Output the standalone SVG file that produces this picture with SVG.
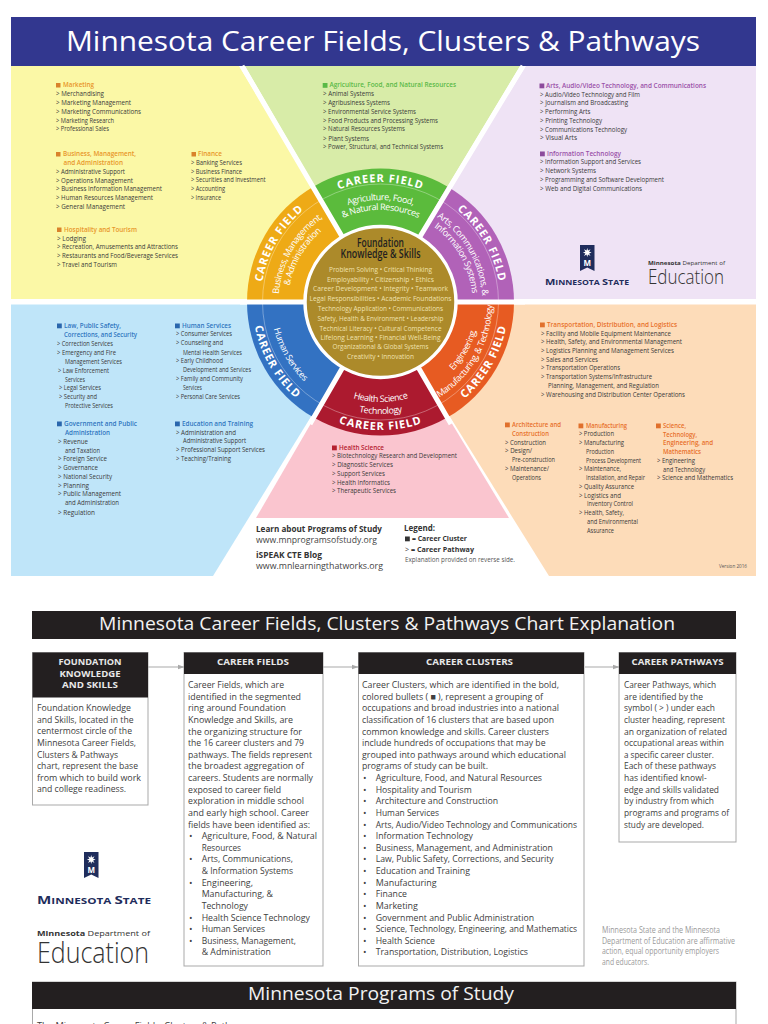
<svg xmlns="http://www.w3.org/2000/svg" xmlns:xlink="http://www.w3.org/1999/xlink" width="768" height="1024" viewBox="0 0 768 1024">
<style>
text{font-family:"Open Sans","Liberation Sans",sans-serif}
.t{font-size:7.4px;fill:#3a3a3a}
.h{font-size:7.8px;font-weight:600}
.or{fill:#e8962a}.gr{fill:#5ab947}.pu{fill:#9a50a8}.bl{fill:#2f75bf}.rd{fill:#e8702a}.cr{fill:#b5202f}
.cf{font-size:11px;font-weight:700;fill:#fff;letter-spacing:.9px;text-anchor:middle}
.il{font-size:9px;fill:#fff;text-anchor:middle;letter-spacing:-.45px}
.fk{font-size:8px;fill:#f0e2b0;text-anchor:middle}
.w{stroke:#fff;stroke-width:5;fill:none}
.box{fill:#fff;stroke:#a9a9a9;stroke-width:1}
.bar{fill:#231f20}
.hd{font-size:9px;font-weight:700;fill:#e8e8e8;text-anchor:middle}
.x{font-size:9.3px;fill:#404040}
.bt{font-size:18.5px;fill:#f2f2f2}
.cn{stroke:#a9a9a9;stroke-width:1;fill:none;marker-end:url(#ah)}
.navy{fill:#1f2d5c}
</style>
<defs>
<marker id="ah" markerWidth="7" markerHeight="6" refX="6.5" refY="3" orient="auto" markerUnits="userSpaceOnUse"><path d="M0 0.5L7 3L0 5.5Z" fill="#a9a9a9"/></marker>
<path id="c120" d="M-103.9 -60A120 120 0 0 1 103.9 -60"/>
<path id="c102" d="M-88.3 -51A102 102 0 0 1 88.3 -51"/>
<path id="c92" d="M-79.7 -46A92 92 0 0 1 79.7 -46"/>
<path id="u128" d="M-110.9 64A128 128 0 0 0 110.9 64"/>
<path id="u110" d="M-95.3 55A110 110 0 0 0 95.3 55"/>
<path id="u100" d="M-86.6 50A100 100 0 0 0 86.6 50"/>
<path id="u112" d="M-97 56A112 112 0 0 0 97 56"/>
<g id="banner"><path d="M0 0H14.5V26L7.25 22.5L0 26Z" class="navy"/><polygon points="7.25,3 8,5.6 10.5,4.2 9.1,6.8 11.6,7.6 9.1,8.4 10.5,11 8,9.6 7.25,12 6.5,9.6 4,11 5.4,8.4 2.9,7.6 5.4,6.8 4,4.2 6.5,5.6" fill="#fff"/></g>
</defs>
<rect width="768" height="1024" fill="#fff"/>

<g id="title-bar"><rect x="11" y="17" width="745" height="49" fill="#32378f"/><text x="66" y="51" font-size="28" fill="#fff" textLength="634" lengthAdjust="spacingAndGlyphs">Minnesota Career Fields, Clusters &amp; Pathways</text></g>

<g id="panels">
<polygon points="11,66 239,66 380,299 11,299" fill="#fbf8a6"/>
<polygon points="245,66 520,66 380,299" fill="#d8eca8"/>
<polygon points="526,66 756,66 756,299 380,299" fill="#efe3f5"/>
<polygon points="11,304.5 380,304.5 213,576 11,576" fill="#bfe5f9"/>
<polygon points="380,304.5 256,518 509,518" fill="#fac5cf"/>
<polygon points="380,304.5 756,304.5 756,576 549,576" fill="#fddcb9"/>
</g>

<g id="wheel">
<path d="M380.5 302L313.75 186.4A133.5 133.5 0 0 1 447.25 186.4Z" fill="#5bbb3c"/>
<path d="M380.5 302L447.25 186.4A133.5 133.5 0 0 1 514 302Z" fill="#b162b8"/>
<path d="M380.5 302L514 302A133.5 133.5 0 0 1 447.25 417.6Z" fill="#e75b22"/>
<path d="M380.5 302L447.25 417.6A133.5 133.5 0 0 1 313.75 417.6Z" fill="#ac1a2f"/>
<path d="M380.5 302L313.75 417.6A133.5 133.5 0 0 1 247 302Z" fill="#3372c2"/>
<path d="M380.5 302L247 302A133.5 133.5 0 0 1 313.75 186.4Z" fill="#eeaa16"/>
<circle cx="380.5" cy="302" r="118" fill="none" stroke="#fff" stroke-width=".6" opacity=".55"/>
<path class="w" d="M380.5 302L242 66M380.5 302L523 66M240 302H525M380.5 302L310 424M380.5 302L451 424"/>
<circle cx="380.5" cy="302" r="75.5" fill="#ac8a2a" stroke="#fff" stroke-width="3.5"/>
</g>

<g id="field-agriculture" transform="translate(380.5 302)">
<text class="cf"><textPath href="#c120" startOffset="50%">CAREER FIELD</textPath></text>
<text class="il"><textPath href="#c102" startOffset="50%">Agriculture, Food,</textPath></text>
<text class="il"><textPath href="#c92" startOffset="50%">&amp; Natural Resources</textPath></text>
</g>
<g id="field-arts" transform="translate(380.5 302) rotate(60)">
<text class="cf"><textPath href="#c120" startOffset="50%">CAREER FIELD</textPath></text>
<text class="il"><textPath href="#c102" startOffset="50%">Arts, Communications, &amp;</textPath></text>
<text class="il"><textPath href="#c92" startOffset="50%">Information Systems</textPath></text>
</g>
<g id="field-business" transform="translate(380.5 302) rotate(-60)">
<text class="cf"><textPath href="#c120" startOffset="50%">CAREER FIELD</textPath></text>
<text class="il"><textPath href="#c102" startOffset="50%">Business, Management,</textPath></text>
<text class="il"><textPath href="#c92" startOffset="50%">&amp; Administration</textPath></text>
</g>
<g id="field-health" transform="translate(380.5 302)">
<text class="cf"><textPath href="#u128" startOffset="50%">CAREER FIELD</textPath></text>
<text class="il"><textPath href="#u100" startOffset="50%">Health Science</textPath></text>
<text class="il"><textPath href="#u112" startOffset="50%">Technology</textPath></text>
</g>
<g id="field-human" transform="translate(380.5 302) rotate(60)">
<text class="cf"><textPath href="#u128" startOffset="50%">CAREER FIELD</textPath></text>
<text class="il"><textPath href="#u110" startOffset="50%">Human Services</textPath></text>
</g>
<g id="field-engineering" transform="translate(380.5 302) rotate(-60)">
<text class="cf"><textPath href="#u128" startOffset="50%">CAREER FIELD</textPath></text>
<text class="il"><textPath href="#u100" startOffset="50%">Engineering,</textPath></text>
<text class="il"><textPath href="#u112" startOffset="50%">Manufacturing, &amp; Technology</textPath></text>
</g>

<g id="foundation">
<text x="380.5" y="247" font-size="12" font-weight="600" fill="#231f20" text-anchor="middle" textLength="47" lengthAdjust="spacingAndGlyphs">Foundation</text>
<text x="380.5" y="258" font-size="12" font-weight="600" fill="#231f20" text-anchor="middle" textLength="80" lengthAdjust="spacingAndGlyphs">Knowledge &amp; Skills</text>
<text class="fk" x="380.5" y="272" textLength="103" lengthAdjust="spacingAndGlyphs">Problem Solving • Critical Thinking</text>
<text class="fk" x="380.5" y="281.7" textLength="107" lengthAdjust="spacingAndGlyphs">Employability • Citizenship • Ethics</text>
<text class="fk" x="380.5" y="291" textLength="135" lengthAdjust="spacingAndGlyphs">Career Development • Integrity • Teamwork</text>
<text class="fk" x="380.5" y="301" textLength="142" lengthAdjust="spacingAndGlyphs">Legal Responsibilities • Academic Foundations</text>
<text class="fk" x="380.5" y="311" textLength="125" lengthAdjust="spacingAndGlyphs">Technology Application • Communications</text>
<text class="fk" x="380.5" y="321" textLength="126" lengthAdjust="spacingAndGlyphs">Safety, Health &amp; Environment • Leadership</text>
<text class="fk" x="380.5" y="330.7" textLength="122" lengthAdjust="spacingAndGlyphs">Technical Literacy • Cultural Competence</text>
<text class="fk" x="380.5" y="340" textLength="120" lengthAdjust="spacingAndGlyphs">Lifelong Learning • Financial Well-Being</text>
<text class="fk" x="380.5" y="349" textLength="96" lengthAdjust="spacingAndGlyphs">Organizational &amp; Global Systems</text>
<text class="fk" x="380.5" y="359" textLength="67" lengthAdjust="spacingAndGlyphs">Creativity • Innovation</text>
</g>

<g id="clusters-yellow">
<rect x="56" y="83" width="4.5" height="4.5" fill="#d9822b"/>
<text class="h or" x="63" y="87" textLength="31" lengthAdjust="spacingAndGlyphs">Marketing</text>
<text class="t" x="56" y="96" textLength="48" lengthAdjust="spacingAndGlyphs">&gt; Merchandising</text>
<text class="t" x="56" y="105" textLength="75" lengthAdjust="spacingAndGlyphs">&gt; Marketing Management</text>
<text class="t" x="56" y="113.5" textLength="85" lengthAdjust="spacingAndGlyphs">&gt; Marketing Communications</text>
<text class="t" x="56" y="122.5" textLength="58" lengthAdjust="spacingAndGlyphs">&gt; Marketing Research</text>
<text class="t" x="56" y="130.7" textLength="53" lengthAdjust="spacingAndGlyphs">&gt; Professional Sales</text>
<rect x="56" y="152" width="4.5" height="4.5" fill="#d9822b"/>
<text class="h or" x="63" y="156" textLength="73" lengthAdjust="spacingAndGlyphs">Business, Management,</text>
<text class="h or" x="63.5" y="165" textLength="59.5" lengthAdjust="spacingAndGlyphs">and Administration</text>
<text class="t" x="56" y="174" textLength="69" lengthAdjust="spacingAndGlyphs">&gt; Administrative Support</text>
<text class="t" x="56" y="182.5" textLength="77" lengthAdjust="spacingAndGlyphs">&gt; Operations Management</text>
<text class="t" x="56" y="191" textLength="106" lengthAdjust="spacingAndGlyphs">&gt; Business Information Management</text>
<text class="t" x="56" y="200" textLength="97" lengthAdjust="spacingAndGlyphs">&gt; Human Resources Management</text>
<text class="t" x="56" y="209" textLength="69" lengthAdjust="spacingAndGlyphs">&gt; General Management</text>
<rect x="57" y="227.500" width="4.5" height="4.5" fill="#d9822b"/>
<text class="h or" x="64" y="232" textLength="73" lengthAdjust="spacingAndGlyphs">Hospitality and Tourism</text>
<text class="t" x="57" y="241" textLength="29" lengthAdjust="spacingAndGlyphs">&gt; Lodging</text>
<text class="t" x="57" y="249" textLength="121" lengthAdjust="spacingAndGlyphs">&gt; Recreation, Amusements and Attractions</text>
<text class="t" x="57" y="258" textLength="121" lengthAdjust="spacingAndGlyphs">&gt; Restaurants and Food/Beverage Services</text>
<text class="t" x="57" y="267" textLength="60" lengthAdjust="spacingAndGlyphs">&gt; Travel and Tourism</text>
<rect x="191.500" y="152" width="4.5" height="4.5" fill="#d9822b"/>
<text class="h or" x="198" y="156" textLength="24" lengthAdjust="spacingAndGlyphs">Finance</text>
<text class="t" x="191" y="165" textLength="51" lengthAdjust="spacingAndGlyphs">&gt; Banking Services</text>
<text class="t" x="191" y="174" textLength="51" lengthAdjust="spacingAndGlyphs">&gt; Business Finance</text>
<text class="t" x="191" y="182" textLength="74.500" lengthAdjust="spacingAndGlyphs">&gt; Securities and Investment</text>
<text class="t" x="191" y="191" textLength="34" lengthAdjust="spacingAndGlyphs">&gt; Accounting</text>
<text class="t" x="191" y="200" textLength="30" lengthAdjust="spacingAndGlyphs">&gt; Insurance</text>
</g>

<g id="clusters-green">
<rect x="322.700" y="83" width="4.800" height="4.800" fill="#5ab947"/>
<text class="h gr" x="329.500" y="87" textLength="126.500" lengthAdjust="spacingAndGlyphs">Agriculture, Food, and Natural Resources</text>
<text class="t" x="323" y="96" textLength="51" lengthAdjust="spacingAndGlyphs">&gt; Animal Systems</text>
<text class="t" x="323" y="105" textLength="67" lengthAdjust="spacingAndGlyphs">&gt; Agribusiness Systems</text>
<text class="t" x="323" y="113.500" textLength="93" lengthAdjust="spacingAndGlyphs">&gt; Environmental Service Systems</text>
<text class="t" x="323" y="122.500" textLength="115" lengthAdjust="spacingAndGlyphs">&gt; Food Products and Processing Systems</text>
<text class="t" x="323" y="131" textLength="82" lengthAdjust="spacingAndGlyphs">&gt; Natural Resources Systems</text>
<text class="t" x="323" y="140.500" textLength="46" lengthAdjust="spacingAndGlyphs">&gt; Plant Systems</text>
<text class="t" x="323" y="148.500" textLength="120" lengthAdjust="spacingAndGlyphs">&gt; Power, Structural, and Technical Systems</text>
</g>

<g id="clusters-purple">
<rect x="539.500" y="83.500" width="4.800" height="4.800" fill="#8c4a9c"/>
<text class="h pu" x="546" y="88" textLength="160" lengthAdjust="spacingAndGlyphs">Arts, Audio/Video Technology, and Communications</text>
<text class="t" x="540" y="97" textLength="100" lengthAdjust="spacingAndGlyphs">&gt; Audio/Video Technology and Film</text>
<text class="t" x="540" y="105" textLength="88" lengthAdjust="spacingAndGlyphs">&gt; Journalism and Broadcasting</text>
<text class="t" x="540" y="114" textLength="50.500" lengthAdjust="spacingAndGlyphs">&gt; Performing Arts</text>
<text class="t" x="540" y="123" textLength="62" lengthAdjust="spacingAndGlyphs">&gt; Printing Technology</text>
<text class="t" x="540" y="132" textLength="87" lengthAdjust="spacingAndGlyphs">&gt; Communications Technology</text>
<text class="t" x="540" y="140" textLength="37" lengthAdjust="spacingAndGlyphs">&gt; Visual Arts</text>
<rect x="540" y="151.500" width="4.800" height="4.800" fill="#8c4a9c"/>
<text class="h pu" x="547" y="156" textLength="74" lengthAdjust="spacingAndGlyphs">Information Technology</text>
<text class="t" x="540" y="164" textLength="101" lengthAdjust="spacingAndGlyphs">&gt; Information Support and Services</text>
<text class="t" x="540" y="173" textLength="56" lengthAdjust="spacingAndGlyphs">&gt; Network Systems</text>
<text class="t" x="540" y="182" textLength="124" lengthAdjust="spacingAndGlyphs">&gt; Programming and Software Development</text>
<text class="t" x="540" y="191" textLength="102" lengthAdjust="spacingAndGlyphs">&gt; Web and Digital Communications</text>
</g>

<g id="logos-top">
<use href="#banner" x="580" y="245"/>
<text x="587.200" y="266" font-size="8" font-weight="700" fill="#fff" text-anchor="middle">M</text>
<text x="545" y="285" font-weight="700" class="navy" font-size="7.500" textLength="84" lengthAdjust="spacingAndGlyphs"><tspan font-size="9.500">M</tspan>INNESOTA <tspan font-size="9.500">S</tspan>TATE</text>
<text x="648" y="265" font-size="6" fill="#333" textLength="77" lengthAdjust="spacingAndGlyphs"><tspan font-weight="700">Minnesota</tspan> Department of</text>
<text x="648" y="284" font-size="21" font-weight="300" fill="#333" textLength="76" lengthAdjust="spacingAndGlyphs">Education</text>
</g>

<g id="clusters-blue">
<rect x="57" y="323.500" width="4.800" height="4.800" fill="#2a66ad"/>
<text class="h bl" x="64" y="328" textLength="57" lengthAdjust="spacingAndGlyphs">Law, Public Safety,</text>
<text class="h bl" x="64" y="337" textLength="73" lengthAdjust="spacingAndGlyphs">Corrections, and Security</text>
<text class="t" x="57" y="346" textLength="56" lengthAdjust="spacingAndGlyphs">&gt; Correction Services</text>
<text class="t" x="57" y="355" textLength="59" lengthAdjust="spacingAndGlyphs">&gt; Emergency and Fire</text>
<text class="t" x="65" y="364" textLength="57" lengthAdjust="spacingAndGlyphs">Management Services</text>
<text class="t" x="58" y="373" textLength="51" lengthAdjust="spacingAndGlyphs">&gt; Law Enforcement</text>
<text class="t" x="65" y="382" textLength="20" lengthAdjust="spacingAndGlyphs">Services</text>
<text class="t" x="59" y="390" textLength="42" lengthAdjust="spacingAndGlyphs">&gt; Legal Services</text>
<text class="t" x="59" y="399" textLength="38" lengthAdjust="spacingAndGlyphs">&gt; Security and</text>
<text class="t" x="65" y="408" textLength="48" lengthAdjust="spacingAndGlyphs">Protective Services</text>
<rect x="57" y="421.500" width="4.800" height="4.800" fill="#2a66ad"/>
<text class="h bl" x="64" y="426" textLength="73" lengthAdjust="spacingAndGlyphs">Government and Public</text>
<text class="h bl" x="65" y="435" textLength="45" lengthAdjust="spacingAndGlyphs">Administration</text>
<text class="t" x="58" y="444" textLength="30" lengthAdjust="spacingAndGlyphs">&gt; Revenue</text>
<text class="t" x="65" y="453" textLength="35" lengthAdjust="spacingAndGlyphs">and Taxation</text>
<text class="t" x="58" y="461" textLength="49" lengthAdjust="spacingAndGlyphs">&gt; Foreign Service</text>
<text class="t" x="58" y="470" textLength="40" lengthAdjust="spacingAndGlyphs">&gt; Governance</text>
<text class="t" x="58" y="479" textLength="54" lengthAdjust="spacingAndGlyphs">&gt; National Security</text>
<text class="t" x="58" y="488" textLength="31" lengthAdjust="spacingAndGlyphs">&gt; Planning</text>
<text class="t" x="58" y="496" textLength="63" lengthAdjust="spacingAndGlyphs">&gt; Public Management</text>
<text class="t" x="65" y="505" textLength="54" lengthAdjust="spacingAndGlyphs">and Administration</text>
<text class="t" x="58" y="515" textLength="37" lengthAdjust="spacingAndGlyphs">&gt; Regulation</text>
<rect x="175" y="323.500" width="4.800" height="4.800" fill="#2a66ad"/>
<text class="h bl" x="182" y="328" textLength="49" lengthAdjust="spacingAndGlyphs">Human Services</text>
<text class="t" x="176" y="336" textLength="56" lengthAdjust="spacingAndGlyphs">&gt; Consumer Services</text>
<text class="t" x="176" y="345" textLength="47" lengthAdjust="spacingAndGlyphs">&gt; Counseling and</text>
<text class="t" x="183" y="355" textLength="59" lengthAdjust="spacingAndGlyphs">Mental Health Services</text>
<text class="t" x="176" y="363" textLength="47" lengthAdjust="spacingAndGlyphs">&gt; Early Childhood</text>
<text class="t" x="183" y="372" textLength="68" lengthAdjust="spacingAndGlyphs">Development and Services</text>
<text class="t" x="176" y="381" textLength="67" lengthAdjust="spacingAndGlyphs">&gt; Family and Community</text>
<text class="t" x="183" y="390" textLength="19" lengthAdjust="spacingAndGlyphs">Services</text>
<text class="t" x="176" y="399" textLength="64" lengthAdjust="spacingAndGlyphs">&gt; Personal Care Services</text>
<rect x="175" y="421.500" width="4.800" height="4.800" fill="#2a66ad"/>
<text class="h bl" x="182" y="426" textLength="71" lengthAdjust="spacingAndGlyphs">Education and Training</text>
<text class="t" x="176" y="435" textLength="60" lengthAdjust="spacingAndGlyphs">&gt; Administration and</text>
<text class="t" x="183" y="443" textLength="63" lengthAdjust="spacingAndGlyphs">Administrative Support</text>
<text class="t" x="176" y="452" textLength="89" lengthAdjust="spacingAndGlyphs">&gt; Professional Support Services</text>
<text class="t" x="176" y="461" textLength="55" lengthAdjust="spacingAndGlyphs">&gt; Teaching/Training</text>
</g>

<g id="clusters-orange">
<rect x="540" y="322.500" width="4.800" height="4.800" fill="#e0702c"/>
<text class="h rd" x="547" y="327" textLength="130" lengthAdjust="spacingAndGlyphs">Transportation, Distribution, and Logistics</text>
<text class="t" x="541" y="336" textLength="130" lengthAdjust="spacingAndGlyphs">&gt; Facility and Mobile Equipment Maintenance</text>
<text class="t" x="541" y="344" textLength="141" lengthAdjust="spacingAndGlyphs">&gt; Health, Safety, and Environmental Management</text>
<text class="t" x="541" y="353" textLength="133" lengthAdjust="spacingAndGlyphs">&gt; Logistics Planning and Management Services</text>
<text class="t" x="541" y="362" textLength="57" lengthAdjust="spacingAndGlyphs">&gt; Sales and Services</text>
<text class="t" x="541" y="370" textLength="79" lengthAdjust="spacingAndGlyphs">&gt; Transportation Operations</text>
<text class="t" x="541" y="379" textLength="111" lengthAdjust="spacingAndGlyphs">&gt; Transportation Systems/Infrastructure</text>
<text class="t" x="548" y="388" textLength="111" lengthAdjust="spacingAndGlyphs">Planning, Management, and Regulation</text>
<text class="t" x="541" y="397" textLength="144" lengthAdjust="spacingAndGlyphs">&gt; Warehousing and Distribution Center Operations</text>
<rect x="505" y="422.500" width="4.800" height="4.800" fill="#e0702c"/>
<text class="h rd" x="512" y="427" textLength="49" lengthAdjust="spacingAndGlyphs">Architecture and</text>
<text class="h rd" x="512" y="436" textLength="37" lengthAdjust="spacingAndGlyphs">Construction</text>
<text class="t" x="505" y="445" textLength="41" lengthAdjust="spacingAndGlyphs">&gt; Construction</text>
<text class="t" x="505" y="453" textLength="27" lengthAdjust="spacingAndGlyphs">&gt; Design/</text>
<text class="t" x="512" y="462" textLength="43" lengthAdjust="spacingAndGlyphs">Pre-construction</text>
<text class="t" x="505" y="471" textLength="44" lengthAdjust="spacingAndGlyphs">&gt; Maintenance/</text>
<text class="t" x="512" y="480" textLength="29" lengthAdjust="spacingAndGlyphs">Operations</text>
<rect x="578.500" y="423.500" width="4.800" height="4.800" fill="#e0702c"/>
<text class="h rd" x="586" y="428" textLength="41" lengthAdjust="spacingAndGlyphs">Manufacturing</text>
<text class="t" x="579" y="436" textLength="35" lengthAdjust="spacingAndGlyphs">&gt; Production</text>
<text class="t" x="579" y="445" textLength="45" lengthAdjust="spacingAndGlyphs">&gt; Manufacturing</text>
<text class="t" x="586" y="454" textLength="28" lengthAdjust="spacingAndGlyphs">Production</text>
<text class="t" x="586" y="463" textLength="55" lengthAdjust="spacingAndGlyphs">Process Development</text>
<text class="t" x="579" y="471" textLength="42" lengthAdjust="spacingAndGlyphs">&gt; Maintenance,</text>
<text class="t" x="586" y="480" textLength="59" lengthAdjust="spacingAndGlyphs">Installation, and Repair</text>
<text class="t" x="579" y="489" textLength="55" lengthAdjust="spacingAndGlyphs">&gt; Quality Assurance</text>
<text class="t" x="579" y="498" textLength="42" lengthAdjust="spacingAndGlyphs">&gt; Logistics and</text>
<text class="t" x="587" y="506" textLength="46" lengthAdjust="spacingAndGlyphs">Inventory Control</text>
<text class="t" x="579" y="515" textLength="45" lengthAdjust="spacingAndGlyphs">&gt; Health, Safety,</text>
<text class="t" x="587" y="524" textLength="51" lengthAdjust="spacingAndGlyphs">and Environmental</text>
<text class="t" x="587" y="533" textLength="27" lengthAdjust="spacingAndGlyphs">Assurance</text>
<rect x="656" y="423.500" width="4.800" height="4.800" fill="#e0702c"/>
<text class="h rd" x="663" y="428" textLength="23" lengthAdjust="spacingAndGlyphs">Science,</text>
<text class="h rd" x="663" y="437" textLength="34" lengthAdjust="spacingAndGlyphs">Technology,</text>
<text class="h rd" x="663" y="445" textLength="50" lengthAdjust="spacingAndGlyphs">Engineering, and</text>
<text class="h rd" x="663" y="454" textLength="38" lengthAdjust="spacingAndGlyphs">Mathematics</text>
<text class="t" x="657" y="463" textLength="38" lengthAdjust="spacingAndGlyphs">&gt; Engineering</text>
<text class="t" x="663" y="472" textLength="42" lengthAdjust="spacingAndGlyphs">and Technology</text>
<text class="t" x="657" y="480" textLength="76" lengthAdjust="spacingAndGlyphs">&gt; Science and Mathematics</text>
<text x="719" y="568" font-size="5" fill="#555" textLength="28" lengthAdjust="spacingAndGlyphs">Version 2016</text>
</g>

<g id="clusters-pink">
<rect x="332" y="445.500" width="4.800" height="4.800" fill="#b5202f"/>
<text class="h cr" x="339" y="450" textLength="45" lengthAdjust="spacingAndGlyphs">Health Science</text>
<text class="t" x="332" y="458" textLength="125" lengthAdjust="spacingAndGlyphs">&gt; Biotechnology Research and Development</text>
<text class="t" x="332" y="467" textLength="61" lengthAdjust="spacingAndGlyphs">&gt; Diagnostic Services</text>
<text class="t" x="332" y="476" textLength="53" lengthAdjust="spacingAndGlyphs">&gt; Support Services</text>
<text class="t" x="332" y="485" textLength="58" lengthAdjust="spacingAndGlyphs">&gt; Health Informatics</text>
<text class="t" x="332" y="493" textLength="64" lengthAdjust="spacingAndGlyphs">&gt; Therapeutic Services</text>
</g>

<g id="study-links">
<text x="256" y="531.700" font-size="9" font-weight="700" fill="#333" textLength="126" lengthAdjust="spacingAndGlyphs">Learn about Programs of Study</text>
<text x="256" y="542.500" font-size="9" fill="#444" textLength="121" lengthAdjust="spacingAndGlyphs">www.mnprogramsofstudy.org</text>
<text x="256" y="558" font-size="9" font-weight="700" fill="#333" textLength="66" lengthAdjust="spacingAndGlyphs">iSPEAK CTE Blog</text>
<text x="256" y="569" font-size="9" fill="#444" textLength="127" lengthAdjust="spacingAndGlyphs">www.mnlearningthatworks.org</text>
</g>
<g id="legend">
<text x="404" y="531" font-size="9" font-weight="700" fill="#333" textLength="31" lengthAdjust="spacingAndGlyphs">Legend:</text>
<rect x="405" y="536.500" width="4.800" height="4.800" fill="#333"/>
<text x="412" y="541" font-size="7" font-weight="700" fill="#333" textLength="55" lengthAdjust="spacingAndGlyphs">= Career Cluster</text>
<text x="405" y="552" font-size="7" font-weight="700" fill="#333" textLength="69" lengthAdjust="spacingAndGlyphs"><tspan font-weight="400">&gt;</tspan> = Career Pathway</text>
<text x="405" y="562" font-size="6.500" fill="#555" textLength="110" lengthAdjust="spacingAndGlyphs">Explanation provided on reverse side.</text>
</g>

<g id="explanation-title"><rect class="bar" x="32" y="611" width="704" height="28"/><text class="bt" x="99" y="630" textLength="576" lengthAdjust="spacingAndGlyphs">Minnesota Career Fields, Clusters &amp; Pathways Chart Explanation</text></g>

<g id="connectors">
<path class="cn" d="M148 667H184"/>
<path class="cn" d="M323 667H358"/>
<path class="cn" d="M585 667H619"/>
</g>

<g id="box-foundation">
<rect class="box" x="32.500" y="652.500" width="115.500" height="152.500"/>
<rect class="bar" x="32.500" y="652.500" width="115.500" height="45"/>
<text class="hd" x="90" y="665" textLength="63" lengthAdjust="spacingAndGlyphs">FOUNDATION</text>
<text class="hd" x="90" y="676.500" textLength="61" lengthAdjust="spacingAndGlyphs">KNOWLEDGE</text>
<text class="hd" x="90" y="688" textLength="56" lengthAdjust="spacingAndGlyphs">AND SKILLS</text>
<text class="x" x="37" y="711" textLength="94" lengthAdjust="spacingAndGlyphs">Foundation Knowledge</text>
<text class="x" x="37" y="722.600" textLength="96.500" lengthAdjust="spacingAndGlyphs">and Skills, located in the</text>
<text class="x" x="37" y="734.300" textLength="95" lengthAdjust="spacingAndGlyphs">centermost circle of the</text>
<text class="x" x="37" y="745.900" textLength="99" lengthAdjust="spacingAndGlyphs">Minnesota Career Fields,</text>
<text class="x" x="37" y="757.500" textLength="81" lengthAdjust="spacingAndGlyphs">Clusters &amp; Pathways</text>
<text class="x" x="37" y="769.100" textLength="101" lengthAdjust="spacingAndGlyphs">chart, represent the base</text>
<text class="x" x="37" y="780.800" textLength="104" lengthAdjust="spacingAndGlyphs">from which to build work</text>
<text class="x" x="37" y="792.400" textLength="89" lengthAdjust="spacingAndGlyphs">and college readiness.</text>
</g>

<g id="box-fields">
<rect class="box" x="184" y="652.500" width="139" height="313.500"/>
<rect class="bar" x="184" y="652.500" width="139" height="21.500"/>
<text class="hd" x="253" y="665" textLength="72" lengthAdjust="spacingAndGlyphs">CAREER FIELDS</text>
<text class="x" x="188" y="688" textLength="96" lengthAdjust="spacingAndGlyphs">Career Fields, which are</text>
<text class="x" x="188" y="699.600" textLength="113" lengthAdjust="spacingAndGlyphs">identified in the segmented</text>
<text class="x" x="188" y="711.300" textLength="98" lengthAdjust="spacingAndGlyphs">ring around Foundation</text>
<text class="x" x="188" y="722.900" textLength="105" lengthAdjust="spacingAndGlyphs">Knowledge and Skills, are</text>
<text class="x" x="188" y="734.500" textLength="114" lengthAdjust="spacingAndGlyphs">the organizing structure for</text>
<text class="x" x="188" y="746.100" textLength="116" lengthAdjust="spacingAndGlyphs">the 16 career clusters and 79</text>
<text class="x" x="188" y="757.800" textLength="124" lengthAdjust="spacingAndGlyphs">pathways. The fields represent</text>
<text class="x" x="188" y="769.400" textLength="116" lengthAdjust="spacingAndGlyphs">the broadest aggregation of</text>
<text class="x" x="188" y="781" textLength="125" lengthAdjust="spacingAndGlyphs">careers.  Students are normally</text>
<text class="x" x="188" y="792.600" textLength="93" lengthAdjust="spacingAndGlyphs">exposed to career field</text>
<text class="x" x="188" y="804.300" textLength="116" lengthAdjust="spacingAndGlyphs">exploration in middle school</text>
<text class="x" x="188" y="815.900" textLength="121" lengthAdjust="spacingAndGlyphs">and early high school.  Career</text>
<text class="x" x="188" y="827.500" textLength="122" lengthAdjust="spacingAndGlyphs">fields have been identified as:</text>
<text class="x" x="189" y="839.100">•</text><text class="x" x="201.700" y="839.100" textLength="115.300" lengthAdjust="spacingAndGlyphs">Agriculture, Food, &amp; Natural</text>
<text class="x" x="201.700" y="850.800" textLength="39.300" lengthAdjust="spacingAndGlyphs">Resources</text>
<text class="x" x="189" y="862.400">•</text><text class="x" x="201.700" y="862.400" textLength="91.300" lengthAdjust="spacingAndGlyphs">Arts, Communications,</text>
<text class="x" x="201.700" y="874" textLength="91.300" lengthAdjust="spacingAndGlyphs">&amp; Information Systems</text>
<text class="x" x="189" y="885.600">•</text><text class="x" x="201.700" y="885.600" textLength="51.300" lengthAdjust="spacingAndGlyphs">Engineering,</text>
<text class="x" x="201.700" y="897.300" textLength="71.300" lengthAdjust="spacingAndGlyphs">Manufacturing, &amp;</text>
<text class="x" x="201.700" y="908.900" textLength="46.300" lengthAdjust="spacingAndGlyphs">Technology</text>
<text class="x" x="189" y="920.500">•</text><text class="x" x="201.700" y="920.500" textLength="108.300" lengthAdjust="spacingAndGlyphs">Health Science Technology</text>
<text class="x" x="189" y="932.100">•</text><text class="x" x="201.700" y="932.100" textLength="63.300" lengthAdjust="spacingAndGlyphs">Human Services</text>
<text class="x" x="189" y="943.800">•</text><text class="x" x="201.700" y="943.800" textLength="94.300" lengthAdjust="spacingAndGlyphs">Business, Management,</text>
<text class="x" x="201.700" y="955.400" textLength="69.300" lengthAdjust="spacingAndGlyphs">&amp; Administration</text>
</g>

<g id="box-clusters">
<rect class="box" x="358.500" y="652.500" width="225.500" height="313.500"/>
<rect class="bar" x="358.500" y="652.500" width="225.500" height="21.500"/>
<text class="hd" x="469.500" y="665" textLength="87" lengthAdjust="spacingAndGlyphs">CAREER CLUSTERS</text>
<text class="x" x="362" y="688" textLength="197" lengthAdjust="spacingAndGlyphs">Career Clusters, which are identified in the bold,</text>
<text class="x" x="362" y="699.600" textLength="181" lengthAdjust="spacingAndGlyphs">colored bullets ( ■ ), represent a grouping of</text>
<text class="x" x="362" y="711.300" textLength="197" lengthAdjust="spacingAndGlyphs">occupations and broad industries into a national</text>
<text class="x" x="362" y="722.900" textLength="192" lengthAdjust="spacingAndGlyphs">classification of 16 clusters that are based upon</text>
<text class="x" x="362" y="734.500" textLength="187" lengthAdjust="spacingAndGlyphs">common knowledge and skills. Career clusters</text>
<text class="x" x="362" y="746.100" textLength="183.600" lengthAdjust="spacingAndGlyphs">include hundreds of occupations that may be</text>
<text class="x" x="362" y="757.800" textLength="204" lengthAdjust="spacingAndGlyphs">grouped into pathways around which educational</text>
<text class="x" x="362" y="769.400" textLength="126" lengthAdjust="spacingAndGlyphs">programs of study can be built.</text>
<text class="x" x="363" y="781">•</text><text class="x" x="375.700" y="781" textLength="166.300" lengthAdjust="spacingAndGlyphs">Agriculture, Food, and Natural Resources</text>
<text class="x" x="363" y="792.600">•</text><text class="x" x="375.700" y="792.600" textLength="96" lengthAdjust="spacingAndGlyphs">Hospitality and Tourism</text>
<text class="x" x="363" y="804.300">•</text><text class="x" x="375.700" y="804.300" textLength="122.300" lengthAdjust="spacingAndGlyphs">Architecture and Construction</text>
<text class="x" x="363" y="815.900">•</text><text class="x" x="375.700" y="815.900" textLength="63.300" lengthAdjust="spacingAndGlyphs">Human Services</text>
<text class="x" x="363" y="827.500">•</text><text class="x" x="375.700" y="827.500" textLength="201.300" lengthAdjust="spacingAndGlyphs">Arts, Audio/Video Technology and Communications</text>
<text class="x" x="363" y="839.100">•</text><text class="x" x="375.700" y="839.100" textLength="97.300" lengthAdjust="spacingAndGlyphs">Information Technology</text>
<text class="x" x="363" y="850.800">•</text><text class="x" x="375.700" y="850.800" textLength="177.300" lengthAdjust="spacingAndGlyphs">Business, Management, and Administration</text>
<text class="x" x="363" y="862.400">•</text><text class="x" x="375.700" y="862.400" textLength="178" lengthAdjust="spacingAndGlyphs">Law, Public Safety, Corrections, and Security</text>
<text class="x" x="363" y="874">•</text><text class="x" x="375.700" y="874" textLength="94.300" lengthAdjust="spacingAndGlyphs">Education and Training</text>
<text class="x" x="363" y="885.600">•</text><text class="x" x="375.700" y="885.600" textLength="61" lengthAdjust="spacingAndGlyphs">Manufacturing</text>
<text class="x" x="363" y="897.300">•</text><text class="x" x="375.700" y="897.300" textLength="31.300" lengthAdjust="spacingAndGlyphs">Finance</text>
<text class="x" x="363" y="908.900">•</text><text class="x" x="375.700" y="908.900" textLength="42.300" lengthAdjust="spacingAndGlyphs">Marketing</text>
<text class="x" x="363" y="920.500">•</text><text class="x" x="375.700" y="920.500" textLength="158.300" lengthAdjust="spacingAndGlyphs">Government and Public Administration</text>
<text class="x" x="363" y="932.100">•</text><text class="x" x="375.700" y="932.100" textLength="201.300" lengthAdjust="spacingAndGlyphs">Science, Technology, Engineering, and Mathematics</text>
<text class="x" x="363" y="943.800">•</text><text class="x" x="375.700" y="943.800" textLength="59.300" lengthAdjust="spacingAndGlyphs">Health Science</text>
<text class="x" x="363" y="955.400">•</text><text class="x" x="375.700" y="955.400" textLength="152.300" lengthAdjust="spacingAndGlyphs">Transportation, Distribution, Logistics</text>
</g>

<g id="box-pathways">
<rect class="box" x="619" y="652.500" width="117" height="189.500"/>
<rect class="bar" x="619" y="652.500" width="117" height="21.500"/>
<text class="hd" x="677.500" y="665" textLength="92" lengthAdjust="spacingAndGlyphs">CAREER PATHWAYS</text>
<text class="x" x="624" y="688" textLength="92" lengthAdjust="spacingAndGlyphs">Career Pathways, which</text>
<text class="x" x="624" y="699.600" textLength="79" lengthAdjust="spacingAndGlyphs">are identified by the</text>
<text class="x" x="624" y="711.300" textLength="91" lengthAdjust="spacingAndGlyphs">symbol ( &gt; ) under each</text>
<text class="x" x="624" y="722.900" textLength="101" lengthAdjust="spacingAndGlyphs">cluster heading, represent</text>
<text class="x" x="624" y="734.500" textLength="103" lengthAdjust="spacingAndGlyphs">an organization of related</text>
<text class="x" x="624" y="746.100" textLength="100" lengthAdjust="spacingAndGlyphs">occupational areas within</text>
<text class="x" x="624" y="757.800" textLength="90" lengthAdjust="spacingAndGlyphs">a specific career cluster.</text>
<text class="x" x="624" y="769.400" textLength="92" lengthAdjust="spacingAndGlyphs">Each of these pathways</text>
<text class="x" x="624" y="781" textLength="82.700" lengthAdjust="spacingAndGlyphs">has identified knowl-</text>
<text class="x" x="624" y="792.600" textLength="95" lengthAdjust="spacingAndGlyphs">edge and skills validated</text>
<text class="x" x="624" y="804.300" textLength="90" lengthAdjust="spacingAndGlyphs">by industry from which</text>
<text class="x" x="624" y="815.900" textLength="105" lengthAdjust="spacingAndGlyphs">programs and programs of</text>
<text class="x" x="624" y="827.500" textLength="80" lengthAdjust="spacingAndGlyphs">study are developed.</text>
</g>

<g id="logos-bottom">
<use href="#banner" x="84" y="852" />
<text x="91.200" y="873" font-size="8" font-weight="700" fill="#fff" text-anchor="middle">M</text>
<text x="37" y="904" font-weight="700" class="navy" font-size="8.500" textLength="114" lengthAdjust="spacingAndGlyphs"><tspan font-size="11">M</tspan>INNESOTA <tspan font-size="11">S</tspan>TATE</text>
<text x="37" y="936" font-size="7.500" fill="#333" textLength="113" lengthAdjust="spacingAndGlyphs"><tspan font-weight="700">Minnesota</tspan> Department of</text>
<text x="37" y="963" font-size="29" font-weight="300" fill="#333" textLength="112" lengthAdjust="spacingAndGlyphs">Education</text>
</g>

<g id="eeo-note" font-size="8.500" fill="#9a9a9a">
<text x="602" y="932.700" textLength="118" lengthAdjust="spacingAndGlyphs">Minnesota State and the Minnesota</text>
<text x="602" y="943.500" textLength="133" lengthAdjust="spacingAndGlyphs">Department of Education are affirmative</text>
<text x="602" y="954" textLength="117" lengthAdjust="spacingAndGlyphs">action, equal opportunity employers</text>
<text x="602" y="965" textLength="47" lengthAdjust="spacingAndGlyphs">and educators.</text>
</g>

<g id="programs-of-study">
<rect class="box" x="32.500" y="982" width="703.500" height="60"/>
<rect class="bar" x="32" y="982" width="704" height="27"/>
<text class="bt" x="248" y="1000" textLength="266" lengthAdjust="spacingAndGlyphs">Minnesota Programs of Study</text>
<text class="x" x="37" y="1029" textLength="215" lengthAdjust="spacingAndGlyphs">The Minnesota Career Fields, Clusters &amp; Pathways</text>
</g>
</svg>
